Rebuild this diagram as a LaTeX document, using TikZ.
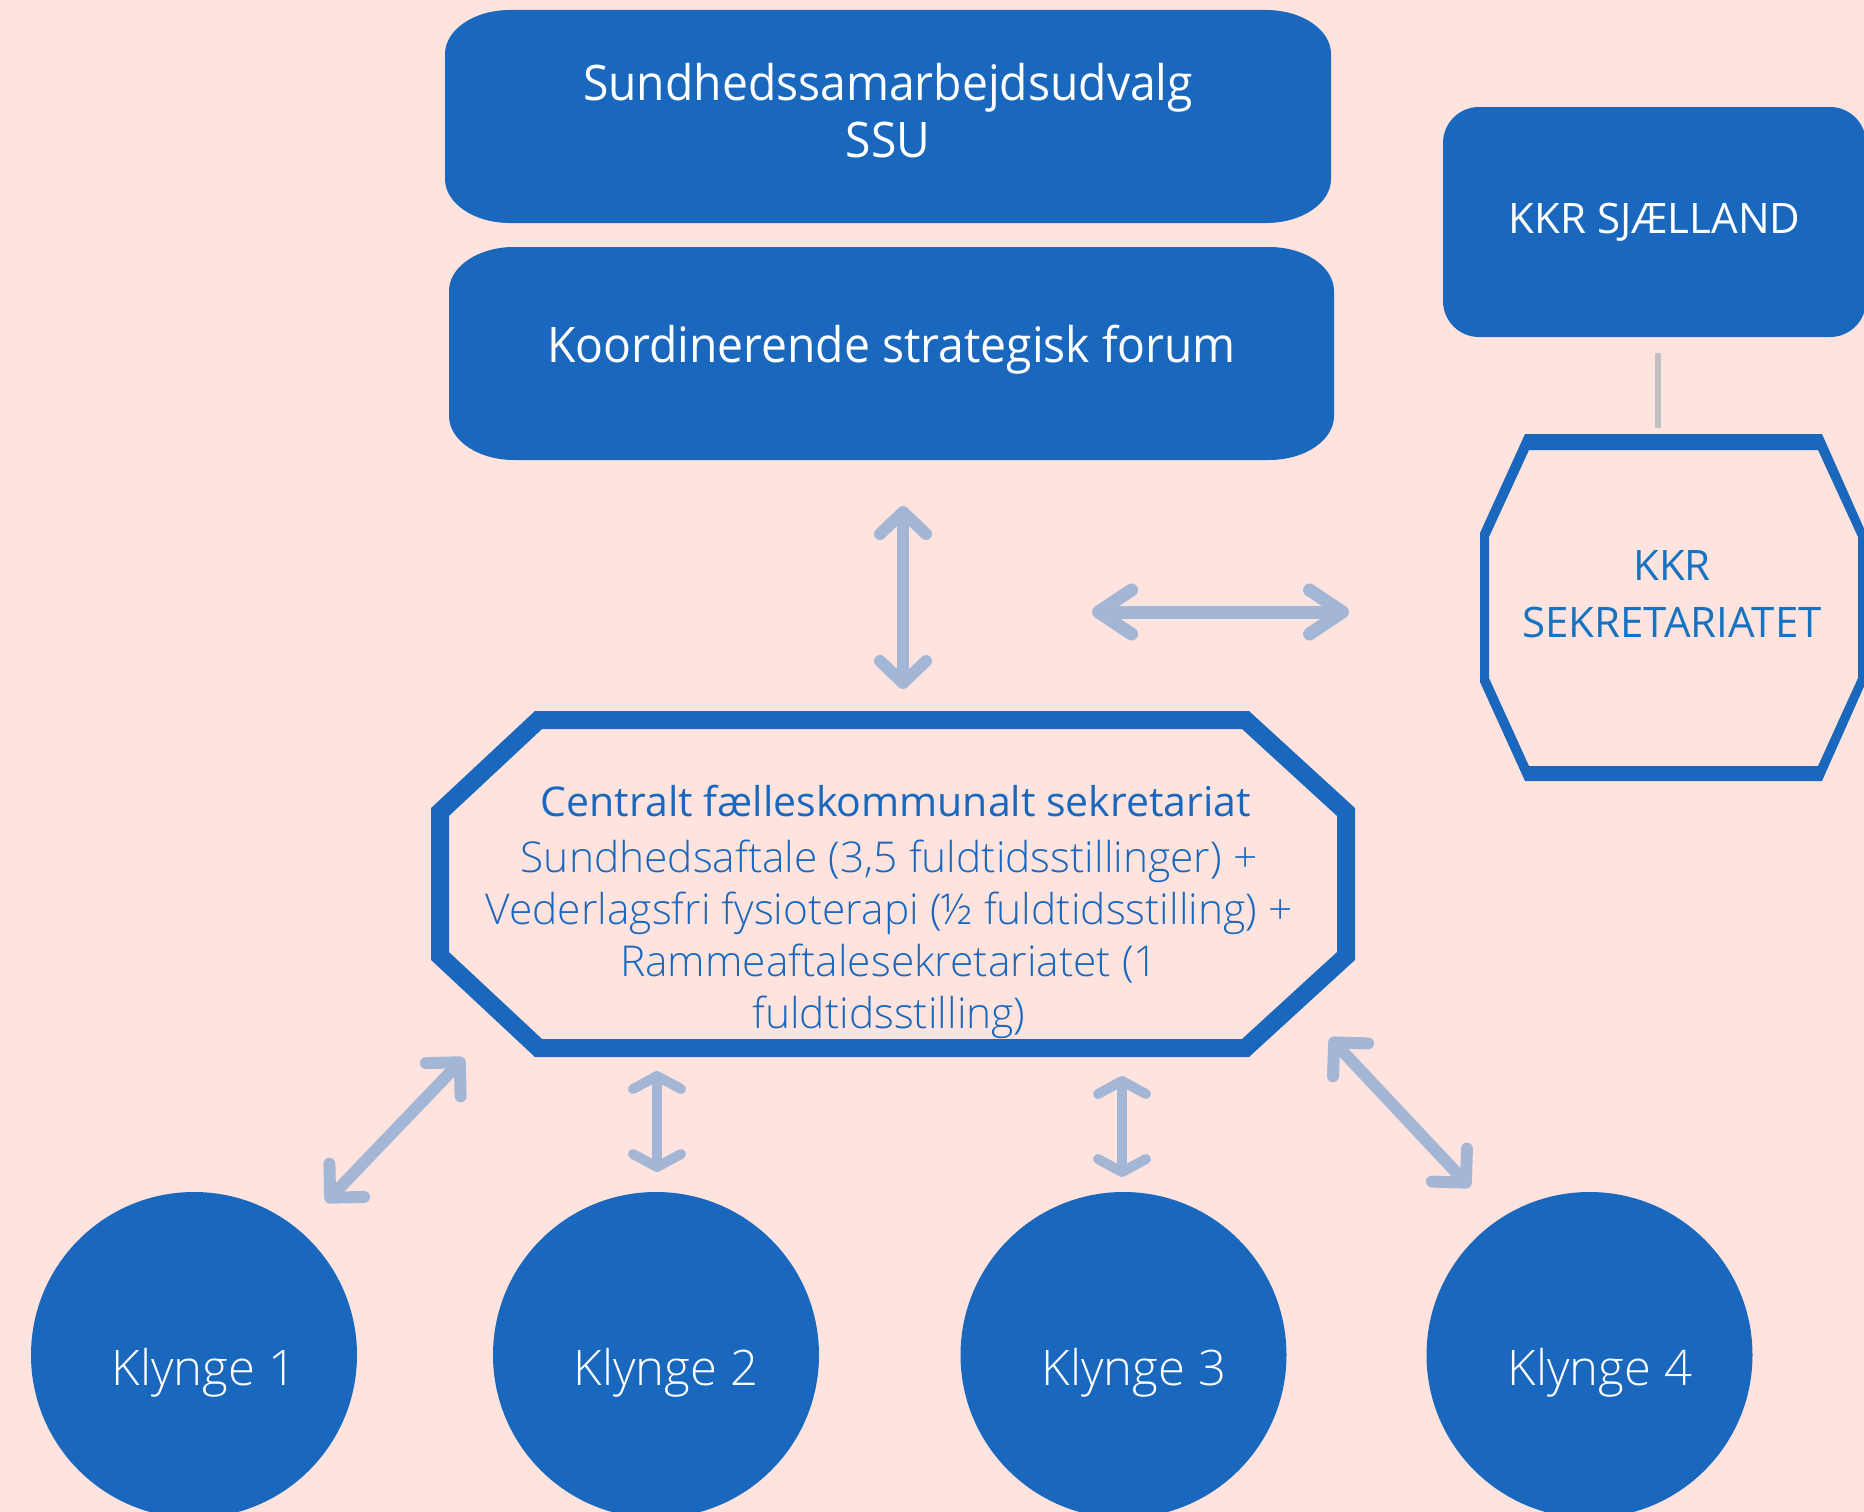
\documentclass[tikz,border=0pt]{standalone}
\usepackage{fontspec}
\setmainfont{Open Sans}
\newfontfamily\thinfont{Open Sans Light}
\newfontfamily\narrowfont[FakeStretch=0.944]{Open Sans}
\usetikzlibrary{arrows.meta,calc}

\definecolor{bg}{HTML}{FFE3DE}
\definecolor{brand}{HTML}{1A68BE}
\definecolor{secblue}{HTML}{1673C1}
\definecolor{linkc}{HTML}{A3B6D6}
\definecolor{stemc}{HTML}{C0C0C0}

\begin{document}
\begin{tikzpicture}[x=1pt, y=-1pt,
  ovalbox/.style={rectangle, inner sep=0pt, fill=bg,
    path picture={\fill[brand] let \p1=(path picture bounding box.south west),
        \p2=(path picture bounding box.north east) in
      (\x1+65pt,\y1) -- (\x2-65pt,\y1)
        arc[start angle=-90, end angle=0, x radius=65pt, y radius=44pt]
      -- (\x2,\y2-44pt)
        arc[start angle=0, end angle=90, x radius=65pt, y radius=44pt]
      -- (\x1+65pt,\y2)
        arc[start angle=90, end angle=180, x radius=65pt, y radius=44pt]
      -- (\x1,\y1+44pt)
        arc[start angle=180, end angle=270, x radius=65pt, y radius=44pt]
      -- cycle;}},
  boxtext/.style={text=white, align=center, inner sep=0pt,
    font=\narrowfont\fontsize{49}{57}\selectfont},
  kkrbox/.style={rectangle, rounded corners=36pt, fill=brand, text=white, inner sep=0pt,
    font=\rmfamily\fontsize{42}{57}\selectfont},
  cluster/.style={circle, fill=brand, minimum size=326pt, inner sep=0pt},
  klabel/.style={text=white, font=\thinfont\fontsize{49}{57}\selectfont,
    anchor=base, inner sep=0pt},
  link/.style={draw=linkc, line cap=round, line join=round, <->},
  linkbig/.style={link, line width=12pt, >={Straight Barb[length=22pt, width=46pt, round]}},
  linkwide/.style={link, line width=13pt, >={Straight Barb[length=33pt, width=44pt, round]}},
  linksmall/.style={link, line width=10pt, >={Straight Barb[length=13pt, width=48pt, round]}},
  linkdiag/.style={link, line width=12pt, >={Straight Barb[length=24pt, width=48pt, round]}},
]
% canvas
\useasboundingbox (0,0) rectangle (1864,1512);
\fill[bg] (0,0) rectangle (1864,1512);
\clip (0,0) rectangle (1864,1512);

% top boxes
\node[ovalbox, minimum width=886pt, minimum height=213pt,
  label={[boxtext, yshift=6pt]center:Sundhedssamarbejdsudvalg\\SSU}] (ssu) at (888,116.5) {};
\node[ovalbox, minimum width=885pt, minimum height=213pt,
  label={[boxtext, yshift=4pt]center:Koordinerende strategisk forum}] (ksf) at (891.5,353.5) {};

% KKR column
\node[kkrbox, minimum width=423pt, minimum height=230pt] (kkr) at (1654.5,222) {KKR SJÆLLAND};
\fill[brand, even odd rule]
  (1525,434) -- (1822,434) -- (1866,533) -- (1866,682) -- (1822,781) -- (1525,781)
    -- (1480,682) -- (1480,533) -- cycle
  (1529,450) -- (1818,450) -- (1858,537) -- (1858,678) -- (1818,766) -- (1529,766)
    -- (1489,678) -- (1489,537) -- cycle;
\node[inner sep=0pt, anchor=north, align=center, text=secblue,
  font=\rmfamily\fontsize{42}{57}\selectfont] (kkrsek) at (1672,550) {KKR\\SEKRETARIATET};
\coordinate (stemtop) at (1658,353);
\coordinate (stembot) at (1658,428);
\draw[stemc, line width=6pt] (stemtop) -- (stembot);

% central secretariat
\draw[brand, line width=18pt, line join=miter]
  (538.5,720) -- (1245.5,720) -- (1346,812) -- (1346,956) -- (1245.5,1048)
  -- (538.5,1048) -- (440,956) -- (440,812) -- cycle;
\node[inner sep=0pt, anchor=north, align=center, text=brand,
  font=\thinfont\fontsize{42.5}{52}\selectfont] (csec) at (889,785)
  {{\rmfamily\fontsize{41}{52}\selectfont\hspace*{14pt}Centralt fælleskommunalt sekretariat}\\[4pt]
   Sundhedsaftale (3,5 fuldtidsstillinger) +\\
   Vederlagsfri fysioterapi (½ fuldtidsstilling) +\\
   Rammeaftalesekretariatet (1\\
   fuldtidsstilling)};

% clusters
\node[cluster] (k1) at (194,1355) {};
\node[cluster] (k2) at (656,1355) {};
\node[cluster] (k3) at (1123.5,1355) {};
\node[cluster] (k4) at (1589.5,1355) {};
\node[klabel] (k1text) at (204,1385) {Klynge 1};
\node[klabel] (k2text) at (666,1385) {Klynge 2};
\node[klabel] (k3text) at (1134,1385) {Klynge 3};
\node[klabel] (k4text) at (1600,1385) {Klynge 4};

% connector ends
\coordinate (ksfdown) at (903,506);
\coordinate (csecup) at (903,689);
\coordinate (csecright) at (1092,612);
\coordinate (sekleft) at (1349,612);
\coordinate (c1top) at (464,1058);
\coordinate (c1bot) at (326,1202);
\coordinate (c2top) at (657,1071);
\coordinate (c2bot) at (657,1172);
\coordinate (c3top) at (1122,1076);
\coordinate (c3bot) at (1122,1177);
\coordinate (c4top) at (1330,1038);
\coordinate (c4bot) at (1470,1187);

% connectors
\draw[linkbig] (ksfdown) -- (csecup);
\draw[linkwide] (csecright) -- (sekleft);
\draw[linkdiag] (c1top) -- (c1bot);
\draw[linksmall] (c2top) -- (c2bot);
\draw[linksmall] (c3top) -- (c3bot);
\draw[linkdiag] (c4top) -- (c4bot);
\end{tikzpicture}
\end{document}
